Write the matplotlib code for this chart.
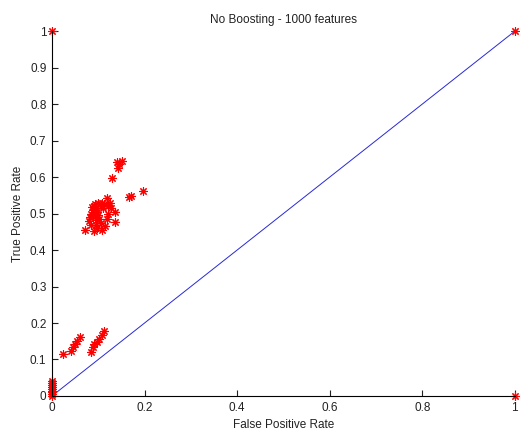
import matplotlib
matplotlib.use("Agg")
import matplotlib.pyplot as plt

plt.rcParams['font.family'] = ['Liberation Sans', 'DejaVu Sans']

# ROC points
fpr = [0, 1, 1, 0,
       0, 0, 0, 0, 0, 0, 0, 0,
       0.023, 0.040, 0.046, 0.050, 0.053, 0.060,
       0.084, 0.088, 0.091, 0.097, 0.102, 0.107, 0.113,
       0.118, 0.167, 0.170, 0.196, 0.129, 0.143, 0.140, 0.152, 0.145,
       0.122, 0.136, 0.136, 0.071, 0.107, 0.090, 0.085, 0.080, 0.082,
       0.085, 0.088, 0.090, 0.093, 0.095, 0.098, 0.100, 0.102, 0.105,
       0.095, 0.092, 0.098, 0.088, 0.110, 0.112, 0.108, 0.105, 0.100,
       0.093, 0.087, 0.097, 0.115, 0.120, 0.118, 0.125, 0.128]
tpr = [0, 1, 0, 1,
       0.005, 0.010, 0.015, 0.020, 0.025, 0.030, 0.035, 0.040,
       0.114, 0.123, 0.135, 0.142, 0.152, 0.162,
       0.121, 0.133, 0.142, 0.149, 0.155, 0.167, 0.179,
       0.544, 0.546, 0.548, 0.562, 0.598, 0.624, 0.642, 0.645, 0.635,
       0.522, 0.505, 0.478, 0.455, 0.455, 0.452, 0.470, 0.480, 0.490,
       0.500, 0.510, 0.520, 0.525, 0.515, 0.505, 0.495, 0.485, 0.475,
       0.470, 0.490, 0.482, 0.495, 0.515, 0.525, 0.530, 0.520, 0.530,
       0.505, 0.518, 0.460, 0.465, 0.500, 0.485, 0.530, 0.515]
diag = [0, 1]

fig = plt.figure(figsize=(5.2, 4.33), dpi=100)
ax = fig.add_axes([0.1, 0.0855, 0.89, 0.8425])

ax.plot(diag, diag, color='#2828d8', linewidth=0.7)
ax.plot(fpr, tpr, linestyle='none', marker=(8, 2, 0), markersize=6,
        markeredgewidth=0.8, color='red', clip_on=False)

ax.set_xlim(0, 1)
ax.set_ylim(0, 1)
ax.set_xticks([0, 0.2, 0.4, 0.6, 0.8, 1])
ax.set_xticklabels(['0', '0.2', '0.4', '0.6', '0.8', '1'])
ax.set_yticks([i / 10 for i in range(11)])
ax.set_yticklabels(['0', '0.1', '0.2', '0.3', '0.4', '0.5', '0.6', '0.7', '0.8', '0.9', '1'])
ax.tick_params(direction='in', length=4, labelsize=8.5, pad=4, colors='#222222')
ax.spines['top'].set_visible(False)
ax.spines['right'].set_visible(False)

ax.set_xlabel('False Positive Rate', fontsize=8.5, color='#222222')
ax.set_ylabel('True Positive Rate', fontsize=8.5, color='#222222')
ax.set_title('No Boosting - 1000 features', fontsize=8.5, pad=6, color='#222222')

fig.savefig('out.png', dpi=100)
